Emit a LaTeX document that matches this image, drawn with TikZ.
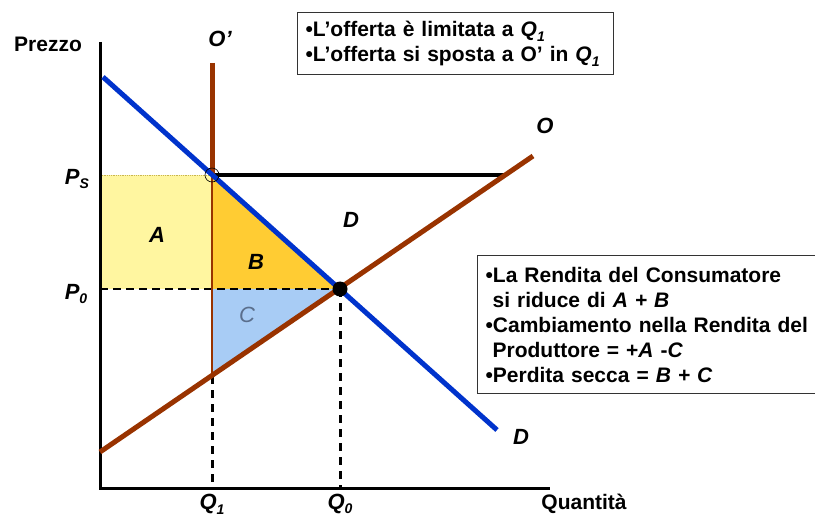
\documentclass[tikz,border=0pt]{standalone}
\usepackage{fontspec}
\setmainfont{Liberation Sans}
\definecolor{dblue}{RGB}{0,51,204}
\definecolor{sbrown}{RGB}{153,51,0}
\definecolor{ayel}{RGB}{255,246,160}
\definecolor{aedge}{RGB}{200,180,80}
\definecolor{bgold}{RGB}{255,204,51}
\definecolor{cblue}{RGB}{168,204,245}
\definecolor{clab}{RGB}{90,110,140}
\newcommand{\lsub}[1]{\raisebox{-0.4ex}{\fontsize{14}{14}\selectfont #1}}
\begin{document}
\begin{tikzpicture}[x=1pt,y=-1pt,
  lab/.style={font=\fontsize{22}{22}\selectfont\bfseries\itshape, inner sep=0pt},
  axlab/.style={font=\fontsize{21}{21}\selectfont\bfseries, inner sep=0pt},
  boxtxt/.style={draw=black!80, line width=1.2pt, fill=white, align=left,
     font=\fontsize{21}{25}\selectfont\bfseries, inner xsep=8pt, anchor=north west},
  dashln/.style={line width=3pt, dash pattern=on 8pt off 6pt},
  dashh/.style={line width=2.2pt, dash pattern=on 8pt off 5pt},
  demand/.style={dblue, line width=5pt},
  supply/.style={sbrown, line width=5pt}]
\useasboundingbox (0,0) rectangle (815,516);
% coordinates
\coordinate (orig) at (100,488);
\coordinate (ytop) at (100,42);
\coordinate (xend) at (550,488);
\coordinate (dtop) at (103,77);
\coordinate (dend) at (497,430);
\coordinate (sbot) at (100,452);
\coordinate (send) at (533,156);
\coordinate (E) at (340,289);
\coordinate (PsQ) at (212,175);
\coordinate (PsY) at (100,175);
\coordinate (PsEnd) at (505,175);
\coordinate (P0Y) at (100,289);
\coordinate (Q1P0) at (212,289);
\coordinate (Q1S) at (212,376);
\coordinate (Q1X) at (212,488);
\coordinate (Q0X) at (340,488);
\coordinate (Otop) at (212,63);
% areas
\fill[ayel] (PsY) rectangle (Q1P0);
\draw[aedge, line width=0.8pt, densely dotted] (PsY) -- (PsQ) -- (Q1P0);
\fill[bgold] (PsQ) -- (Q1P0) -- (E) -- cycle;
\fill[cblue] (Q1P0) -- (E) -- (Q1S) -- cycle;
% dashed guides
\draw[dashh] (P0Y) -- (E);
\draw[dashln] (Q1S) -- (Q1X);
\draw[dashln] (E) -- (Q0X);
% axes
\draw[line width=3pt] (ytop) -- (orig) -- (xend);
% price line
\draw[line width=3.5pt] (PsQ) -- (PsEnd);
% curves
\draw[sbrown, line width=2.2pt] (PsQ) -- (Q1S);
\draw[supply] (Otop) -- (PsQ);
\draw[supply] (sbot) -- (send);
\draw[demand] (dtop) -- (dend);
% points
\node[circle, draw, line width=0.6pt, minimum size=14pt, inner sep=0pt] (circ) at (PsQ) {};
\node[circle, fill=black, minimum size=15pt, inner sep=0pt] (dot) at (E) {};
% labels
\node[axlab] (prezzo) at (48,44) {Prezzo};
\node[axlab] (quant) at (584,504) {Quantità};
\node[lab] (Oprime) at (220,39) {O’};
\node[lab] (Olab) at (545,126) {O};
\node[lab] (Dlab) at (521,437) {D};
\node[lab] (Dmid) at (351,220) {D};
\node[lab] (Alab) at (157,235) {A};
\node[lab] (Blab) at (256,262) {B};
\node[lab, text=clab, font=\fontsize{22}{22}\selectfont\itshape] (Clab) at (247,315) {C};
\node[lab] (Ps) at (77,179) {P\lsub{S}};
\node[lab] (P0) at (76,294) {P\lsub{0}};
\node[lab] (Q1) at (212,504) {Q\lsub{1}};
\node[lab] (Q0) at (340,504) {Q\lsub{0}};
% text boxes
\node[boxtxt, minimum width=316pt, minimum height=62pt, text width=300pt] (box1) at (297,12)
  {•L’offerta è limitata a \textit{Q\lsub{1}}\\
   •L’offerta si sposta a O’ in \textit{Q\lsub{1}}};
\node[boxtxt, minimum width=350pt, minimum height=138pt, text width=334pt] (box2) at (477,255)
  {•La Rendita del Consumatore\\
   \hspace*{7pt}si riduce di \textit{A + B}\\
   •Cambiamento nella Rendita del\\
   \hspace*{7pt}Produttore = +\textit{A} -\textit{C}\\
   •Perdita secca = \textit{B + C}};
\end{tikzpicture}
\end{document}
